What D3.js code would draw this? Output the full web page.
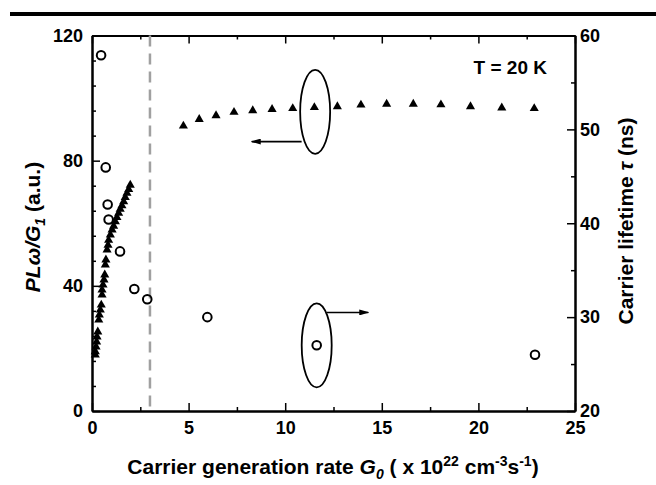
<!DOCTYPE html>
<html>
<head>
<meta charset="utf-8">
<script src="https://cdn.jsdelivr.net/npm/d3@7"></script>
<style>
  body { margin: 0; background: #fff; }
  svg text { font-family: "Liberation Sans", Arial, sans-serif; font-weight: bold; }
</style>
</head>
<body>
<div id="Chart"></div>
<script>
// PL/G1 (left axis) - filled triangles
var triG  = [0.17, 0.17, 0.21, 0.24, 0.26, 0.30, 0.35, 0.38, 0.43, 0.48, 0.52, 0.52, 0.57, 0.62, 0.66, 0.69, 0.72,
             0.78, 0.83, 0.86, 0.95, 1.04, 1.12, 1.21, 1.29, 1.38, 1.46, 1.55, 1.64, 1.72, 1.81, 1.90, 1.98,
             4.73, 5.55, 6.42, 7.35, 8.32, 9.32, 10.39, 11.51, 12.70, 13.92, 15.25, 16.63, 18.06, 19.59, 21.21, 22.89];
var triPL = [17.9, 19.0, 20.5, 22.1, 23.7, 25.3, 29.1, 30.7, 32.3, 33.9, 37.1, 38.7, 40.3, 41.9, 43.5, 46.7, 48.3,
             51.5, 53.0, 54.6, 56.3, 57.9, 59.1, 60.5, 61.9, 63.2, 64.5, 65.6, 66.9, 68.3, 69.6, 70.8, 72.2,
             91.1, 93.2, 94.4, 95.5, 96.0, 96.4, 96.7, 97.0, 97.3, 97.8, 98.1, 98.1, 97.9, 97.3, 96.9, 96.7];
// carrier lifetime (right axis) - open circles
var circG   = [0.47, 0.71, 0.81, 0.86, 1.45, 2.19, 2.86, 5.97, 11.63, 22.93];
var circTau = [57.9, 45.95, 42.0, 40.4, 37.0, 33.0, 31.9, 30.0, 27.0, 26.0];

var xTicks = [0, 5, 10, 15, 20, 25];
var xMinor = [2.5, 7.5, 12.5, 17.5, 22.5];
var yLeftTicks = [0, 40, 80, 120];
var yLeftMinor = [8, 16, 24, 32, 48, 56, 64, 72, 88, 96, 104, 112];
var yRightTicks = [20, 30, 40, 50, 60];
var yRightMinor = [25, 35, 45, 55];

var dashG = 3;
// annotations: ellipse centres and arrows
var ellipseG = [11.55, 11.63];
var ellipseV = [95.6, 27.0];       // first on left axis, second on right axis
var arrowLeftG = [10.85, 8.27], arrowLeftPL = 86.1;
var arrowRightG = [12.15, 14.3], arrowRightTau = 30.5;

var margin = {top: 35.5, right: 81, bottom: 74, left: 92},
    width = 656 - margin.left - margin.right,
    height = 485 - margin.top - margin.bottom;

var svg = d3.select("#Chart").append("svg")
    .attr("width", 656).attr("height", 485);

// thick rule at the top of the page
svg.append("rect").attr("x", 10).attr("y", 12).attr("width", 646).attr("height", 4).attr("fill", "#000");

var g = svg.append("g").attr("transform", "translate(" + margin.left + "," + margin.top + ")");

var x = d3.scaleLinear().domain([0, 25]).range([0, width]);
var yL = d3.scaleLinear().domain([0, 120]).range([height, 0]);
var yR = d3.scaleLinear().domain([20, 60]).range([height, 0]);

function styleAxis(sel) {
    sel.selectAll("path.domain").attr("stroke-width", 2);
    sel.selectAll(".tick line").attr("stroke-width", 1.5);
    sel.selectAll("text").attr("font-size", 18).attr("fill", "#000")
       .style("font-family", '"Liberation Sans", Arial, sans-serif').style("font-weight", "bold");
}

// bottom
g.append("g").attr("transform", "translate(0," + height + ")")
    .call(d3.axisBottom(x).tickValues(xTicks).tickSizeInner(-8).tickSizeOuter(0).tickPadding(10))
    .call(styleAxis);
g.append("g").attr("transform", "translate(0," + height + ")")
    .call(d3.axisBottom(x).tickValues(xMinor).tickSizeInner(-4).tickSizeOuter(0).tickFormat(""))
    .call(styleAxis);
// top
g.append("g")
    .call(d3.axisTop(x).tickValues(xTicks).tickSizeInner(-8).tickSizeOuter(0).tickFormat(""))
    .call(styleAxis);
g.append("g")
    .call(d3.axisTop(x).tickValues(xMinor).tickSizeInner(-4).tickSizeOuter(0).tickFormat(""))
    .call(styleAxis);
// left
g.append("g")
    .call(d3.axisLeft(yL).tickValues(yLeftTicks).tickSizeInner(-8).tickSizeOuter(0).tickPadding(9))
    .call(styleAxis);
g.append("g")
    .call(d3.axisLeft(yL).tickValues(yLeftMinor).tickSizeInner(-4).tickSizeOuter(0).tickFormat(""))
    .call(styleAxis);
// right
g.append("g").attr("transform", "translate(" + width + ",0)")
    .call(d3.axisRight(yR).tickValues(yRightTicks).tickSizeInner(-8).tickSizeOuter(0).tickPadding(5))
    .call(styleAxis);
g.append("g").attr("transform", "translate(" + width + ",0)")
    .call(d3.axisRight(yR).tickValues(yRightMinor).tickSizeInner(-4).tickSizeOuter(0).tickFormat(""))
    .call(styleAxis);

// dashed vertical line
g.append("line")
    .attr("x1", x(dashG)).attr("x2", x(dashG))
    .attr("y1", yL(120)).attr("y2", yL(0))
    .attr("stroke", "#a0a0a0").attr("stroke-width", 2.5)
    .attr("stroke-dasharray", "11,7");

// triangles
g.selectAll("path.tri")
    .data(triG)
    .enter().append("path")
    .attr("class", "tri")
    .attr("transform", (d, i) => "translate(" + x(d) + "," + yL(triPL[i]) + ")")
    .attr("d", d3.symbol().type(d3.symbolTriangle).size(36))
    .attr("fill", "#000");

// circles
g.selectAll("circle.life")
    .data(circG)
    .enter().append("circle")
    .attr("class", "life")
    .attr("cx", d => x(d))
    .attr("cy", (d, i) => yR(circTau[i]))
    .attr("r", 4.3)
    .attr("fill", "none")
    .attr("stroke", "#000")
    .attr("stroke-width", 2);

// ellipses
g.selectAll("ellipse.note")
    .data(ellipseG)
    .enter().append("ellipse")
    .attr("class", "note")
    .attr("cx", d => x(d))
    .attr("cy", (d, i) => i == 0 ? yL(ellipseV[i]) : yR(ellipseV[i]))
    .attr("rx", 15).attr("ry", 42)
    .attr("fill", "none").attr("stroke", "#000").attr("stroke-width", 1.8);

// arrows
svg.append("defs").append("marker")
    .attr("id", "arrow")
    .attr("viewBox", "0 0 10 6").attr("refX", 9).attr("refY", 3)
    .attr("markerWidth", 10).attr("markerHeight", 6)
    .attr("markerUnits", "userSpaceOnUse")
    .attr("orient", "auto")
    .append("path").attr("d", "M0,0L10,3L0,6Z").attr("fill", "#000");

g.append("line")
    .attr("x1", x(arrowLeftG[0])).attr("x2", x(arrowLeftG[1]))
    .attr("y1", yL(arrowLeftPL)).attr("y2", yL(arrowLeftPL))
    .attr("stroke", "#000").attr("stroke-width", 1.6)
    .attr("marker-end", "url(#arrow)");
g.append("line")
    .attr("x1", x(arrowRightG[0])).attr("x2", x(arrowRightG[1]))
    .attr("y1", yR(arrowRightTau)).attr("y2", yR(arrowRightTau))
    .attr("stroke", "#000").attr("stroke-width", 1.6)
    .attr("marker-end", "url(#arrow)");

// temperature label
svg.append("text")
    .attr("x", 547).attr("y", 74)
    .attr("text-anchor", "end")
    .attr("font-size", 19)
    .text("T = 20 K");

// x axis title
var xt = svg.append("text")
    .attr("x", 333).attr("y", 474)
    .attr("text-anchor", "middle")
    .attr("font-size", 21);
xt.append("tspan").text("Carrier generation rate ");
xt.append("tspan").attr("font-style", "italic").text("G");
xt.append("tspan").attr("font-style", "italic").attr("font-size", 14).attr("dy", 5).text("0");
xt.append("tspan").attr("dy", -5).text(" ( x 10");
xt.append("tspan").attr("font-size", 14).attr("dy", -8).text("22");
xt.append("tspan").attr("dy", 8).text(" cm");
xt.append("tspan").attr("font-size", 14).attr("dy", -8).text("-3");
xt.append("tspan").attr("dy", 8).text("s");
xt.append("tspan").attr("font-size", 14).attr("dy", -8).text("-1");
xt.append("tspan").attr("dy", 8).text(")");

// left y title
var yt = svg.append("text")
    .attr("transform", "translate(40,227) rotate(-90)")
    .attr("text-anchor", "middle")
    .attr("font-size", 21);
yt.append("tspan").attr("font-style", "italic").text("PL\u03C9/G");
yt.append("tspan").attr("font-style", "italic").attr("font-size", 14).attr("dy", 5).text("1");
yt.append("tspan").attr("dy", -5).text(" (a.u.)");

// right y title
var rt = svg.append("text")
    .attr("transform", "translate(633,221) rotate(-90)")
    .attr("text-anchor", "middle")
    .attr("font-size", 21);
rt.append("tspan").text("Carrier lifetime ");
rt.append("tspan").attr("font-style", "italic").text("\u03C4");
rt.append("tspan").text(" (ns)");
</script>
</body>
</html>
